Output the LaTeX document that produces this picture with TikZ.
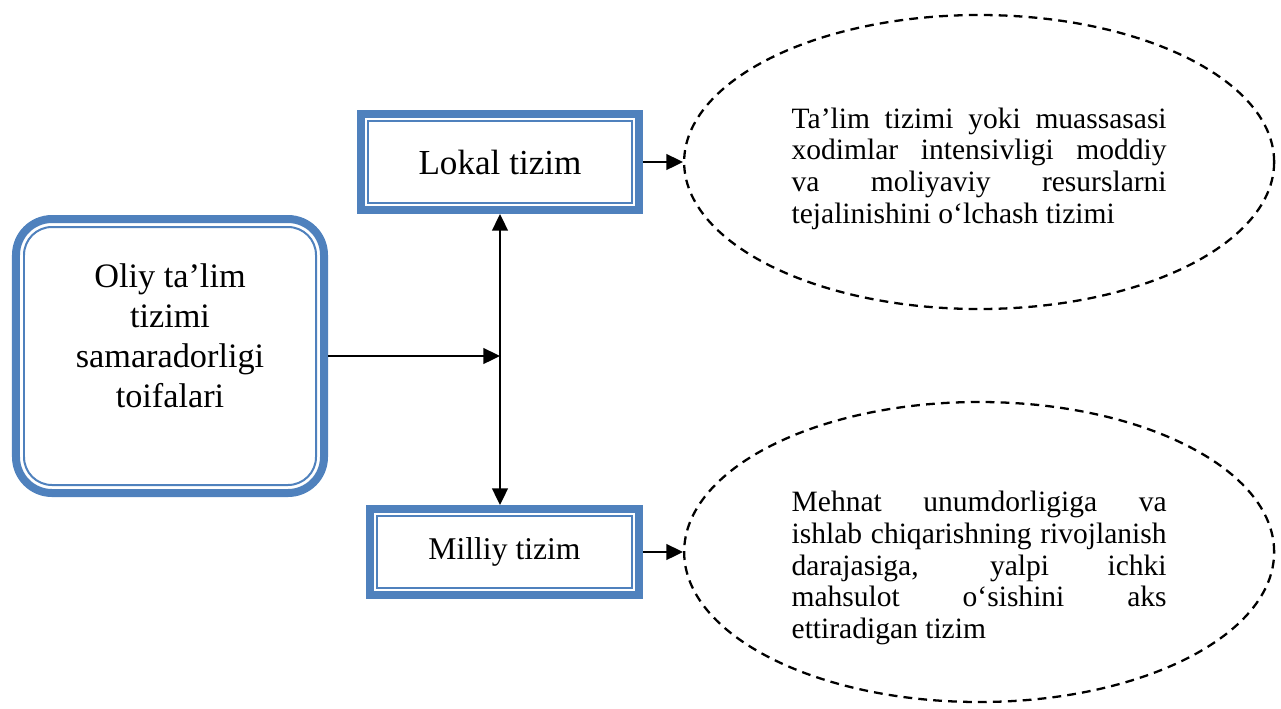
\documentclass[tikz,border=0pt]{standalone}
\usepackage{fontspec}
\setmainfont{Liberation Serif}
\usepackage{tikz}
\usetikzlibrary{positioning,shapes.geometric,arrows.meta}
\definecolor{frameblue}{RGB}{79,129,189}
\hyphenpenalty=10000
\exhyphenpenalty=10000

\begin{document}
\begin{tikzpicture}[>={Triangle[length=9.5pt,width=9pt]},line width=1.1pt,
  sysbox/.style={rectangle,draw=frameblue,line width=0.16cm,fill=white,align=center},
  innerline/.style={draw=frameblue,line width=0.04cm},
  note/.style={ellipse,draw,line width=1.3pt,dash pattern=on 5pt off 3.5pt,minimum width=11.8cm,text width=7.5cm,align=justify,font=\fontsize{16.8}{18}\selectfont}]
  \useasboundingbox (0,0) rectangle (25.62,-14.16);

  \node[sysbox,rounded corners=0.72cm,minimum width=6.16cm,minimum height=5.48cm,font=\fontsize{19.5}{22.8}\selectfont] (oliy) at (3.40,-7.12) {Oliy ta’lim\\tizimi\\samaradorligi\\toifalari\\\mbox{}};
  \node[sysbox,minimum width=5.56cm,minimum height=1.92cm,font=\fontsize{20}{24}\selectfont] (lokal) [above right=0.02cm and 0.58cm of oliy] {Lokal tizim};
  \node[sysbox,minimum width=5.38cm,minimum height=1.72cm,font=\fontsize{18}{21.6}\selectfont] (milliy) [below right=0.16cm and 0.76cm of oliy] {Milliy tizim};

  \node[note,minimum height=5.88cm,text height=19pt] (lokalnote) [right=0.8cm of lokal] {Ta’lim tizimi yoki muassasasi\linebreak xodimlar intensivligi moddiy\linebreak va moliyaviy resurslarni\linebreak tejalinishini o‘lchash tizimi};
  \node[note,minimum height=6cm,text height=30pt] (milliynote) [right=0.8cm of milliy] {Mehnat unumdorligiga va\linebreak ishlab chiqarishning rivojlanish\linebreak darajasiga, yalpi ichki\linebreak mahsulot o‘sishini aks\linebreak ettiradigan tizim};

  \draw[innerline,rounded corners=0.56cm] ([shift={(0.24,0.24)}]oliy.south west) rectangle ([shift={(-0.24,-0.24)}]oliy.north east);
  \draw[innerline] ([shift={(0.22,0.22)}]lokal.south west) rectangle ([shift={(-0.22,-0.22)}]lokal.north east);
  \draw[innerline] ([shift={(0.22,0.22)}]milliy.south west) rectangle ([shift={(-0.22,-0.22)}]milliy.north east);

  \draw[->] (oliy.east) -- (oliy.east -| lokal.south);
  \draw[<->] (lokal.south) -- (lokal.south |- milliy.north);
  \draw[->] (lokal.east) -- (lokalnote.west);
  \draw[->] (milliy.east) -- (milliynote.west);
\end{tikzpicture}
\end{document}
